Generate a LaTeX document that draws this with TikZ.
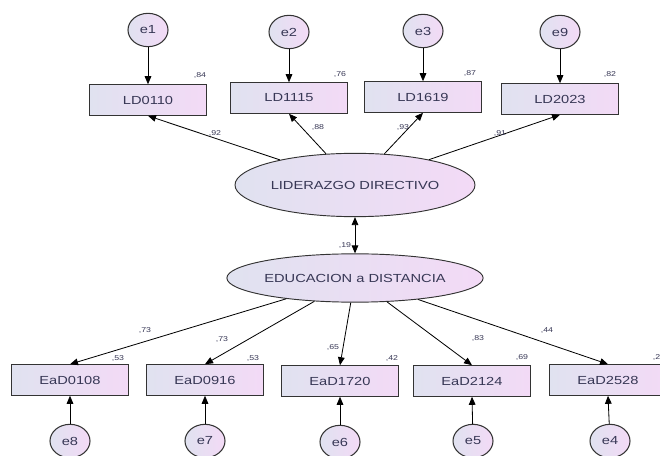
\documentclass[tikz,border=0pt]{standalone}
\usepackage{fontspec}
\setmainfont{Liberation Sans}
\newfontfamily\semfont[FakeStretch=1.25]{Liberation Sans}
\usetikzlibrary{arrows.meta,positioning,shapes.geometric}
\definecolor{fillL}{RGB}{224,226,240}
\definecolor{fillR}{RGB}{243,218,246}
\definecolor{txtc}{RGB}{55,55,85}

\begin{document}
\begin{tikzpicture}[x=0.03cm,y=-0.03cm,
  every node/.style={font=\semfont\fontsize{10}{11}\selectfont,text=txtc},
  obs/.style={draw=black!80,line width=0.8pt,left color=fillL,right color=fillR,minimum width=3.5cm,minimum height=0.92cm},
  lat/.style={ellipse,draw=black!80,line width=0.8pt,left color=fillL,right color=fillR,inner sep=0pt},
  err/.style={ellipse,draw=black!80,line width=0.9pt,left color=fillL,right color=fillR,minimum width=1.2cm,minimum height=1.0cm,inner sep=0pt},
  val/.style={font=\semfont\fontsize{6}{7}\selectfont},
  arr/.style={-{Triangle[length=2.4mm,width=2mm]},line width=0.7pt},
  biarr/.style={{Triangle[length=2.4mm,width=2mm]}-{Triangle[length=2.4mm,width=2mm]},line width=0.7pt}
]
  \useasboundingbox (0,0) rectangle (660,456);
  % latent variables
  \node[lat,minimum width=7.2cm,minimum height=1.9cm] (lid) at (355,185) {LIDERAZGO DIRECTIVO};
  \node[lat,minimum width=7.6cm,minimum height=1.45cm] (edu) at (355,278) {EDUCACION a DISTANCIA};
  % top indicators
  \node[obs] (ld1) at (148,100) {LD0110};
  \node[obs] (ld2) at (289,98) {LD1115};
  \node[obs] (ld3) at (423,97) {LD1619};
  \node[obs] (ld4) at (560,99) {LD2023};
  \node[err] (e1) at (148,30) {e1};
  \node[err] (e2) at (289,32) {e2};
  \node[err] (e3) at (423,31) {e3};
  \node[err] (e9) at (560,32) {e9};
  % bottom indicators
  \node[obs] (ea1) at (70,380) {EaD0108};
  \node[obs] (ea2) at (205,380) {EaD0916};
  \node[obs] (ea3) at (340,381) {EaD1720};
  \node[obs] (ea4) at (472,381) {EaD2124};
  \node[obs] (ea5) at (608,380) {EaD2528};
  \node[err] (e8) at (70,441) {e8};
  \node[err] (e7) at (205,441) {e7};
  \node[err] (e6) at (340,442) {e6};
  \node[err] (e5) at (473,441) {e5};
  \node[err] (e4) at (610,441) {e4};

  \foreach \a/\b in {e1/ld1,e2/ld2,e3/ld3,e9/ld4}
    \draw[arr] (\a) -- (\b.north);
  \foreach \a/\b in {e8/ea1,e7/ea2,e6/ea3,e5/ea4,e4/ea5}
    \draw[arr] (\a) -- (\b.south);
  \draw[arr] (lid) -- (ld1.south);
  \draw[arr] (lid) -- (ld2.south);
  \draw[arr] (lid) -- (ld3.south);
  \draw[arr] (lid) -- (ld4.south);
  \draw[arr] (edu) -- (ea1.north);
  \draw[arr] (edu) -- (ea2.north);
  \draw[arr] (edu) -- (ea3.north);
  \draw[arr] (edu) -- (ea4.north);
  \draw[arr] (edu) -- (ea5.north);
  \draw[biarr] (lid) -- (edu);

  % estimates
  \node[val] (r1) at (200,75) {,84};
  \node[val] (r2) at (340,74) {,76};
  \node[val] (r3) at (470,73) {,87};
  \node[val] (r4) at (610,74) {,82};
  \node[val] (l1) at (215,133) {,92};
  \node[val] (l2) at (318,127) {,88};
  \node[val] (l3) at (403,127) {,93};
  \node[val] (l4) at (500,133) {,91};
  \node[val] (cr) at (345,245) {,19};
  \node[val] (m1) at (145,330) {,73};
  \node[val] (m2) at (222,339) {,73};
  \node[val] (m3) at (333,347) {,65};
  \node[val] (m4) at (478,338) {,83};
  \node[val] (m5) at (547,331) {,44};
  \node[val] (s1) at (118,358) {,53};
  \node[val] (s2) at (253,358) {,53};
  \node[val] (s3) at (392,358) {,42};
  \node[val] (s4) at (522,357) {,69};
  \node[val] (s5) at (659,357) {,20};
\end{tikzpicture}
\end{document}
